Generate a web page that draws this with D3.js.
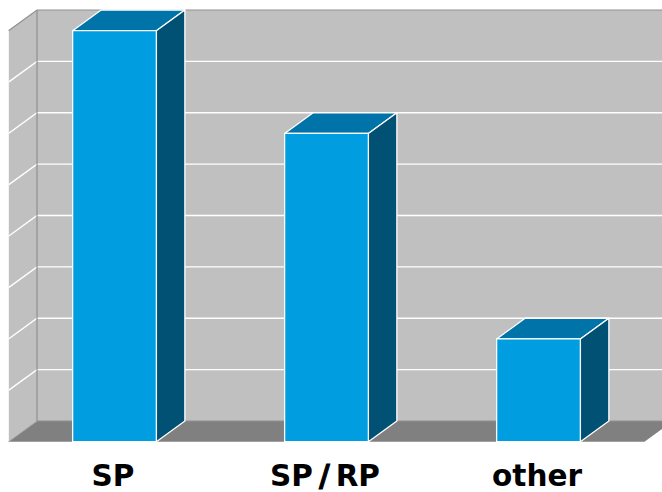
<!DOCTYPE html>
<html>
<head>
<meta charset="utf-8">
<script src="https://cdn.jsdelivr.net/npm/d3@7/dist/d3.min.js"></script>
<style>
html,body{margin:0;padding:0;background:#fff;overflow:hidden}
svg{display:block}
text{font-family:"DejaVu Sans",sans-serif;font-weight:700;fill:#000}
</style>
</head>
<body>
<svg id="chart" width="662" height="492"></svg>
<script>
const categories = ["SP", "SP/RP", "other"];
const values = [8, 6, 2];
const gridTicks = [0, 1, 2, 3, 4, 5, 6, 7, 8];

const colors = {
  wall: "#c0c0c0", floor: "#808080", wallEdge: "#8f8f8f", grid: "#ffffff",
  front: "#009ee0", top: "#0074a8", side: "#005174", barEdge: "#ffffff"
};

// Plot box on the front plane and the oblique depth offset of the 3D projection
const left = 8.5, right = 644.5, baseY = 441.7, topY = 30.7;
const dx = 28.5, dy = -20.7;

const x = d3.scaleBand().domain(categories).range([left, right]).paddingInner(0.605).paddingOuter(0.3025);
const y = d3.scaleLinear().domain([0, 8]).range([baseY, topY]);

const svg = d3.select("#chart");
const poly = pts => pts.map(p => p.join(",")).join(" ");

// Back wall, side wall and floor
svg.append("polygon")
  .attr("points", poly([[left + dx, topY + dy], [right + dx, topY + dy], [right + dx, baseY + dy], [left + dx, baseY + dy]]))
  .attr("fill", colors.wall);
svg.append("polygon")
  .attr("points", poly([[left, topY], [left + dx, topY + dy], [left + dx, baseY + dy], [left, baseY]]))
  .attr("fill", colors.wall);
svg.append("polygon")
  .attr("points", poly([[left, baseY], [left + dx, baseY + dy], [right + dx, baseY + dy], [right, baseY]]))
  .attr("fill", colors.floor);

// Gridlines run across the side wall and along the back wall
const inner = gridTicks.filter(t => t > 0 && t < 8);
svg.append("g").selectAll("polyline").data(inner).join("polyline")
  .attr("points", t => poly([[left, y(t)], [left + dx, y(t) + dy], [right + dx, y(t) + dy]]))
  .attr("fill", "none").attr("stroke", colors.grid).attr("stroke-width", 1.4);

// Wall outlines
svg.append("polyline")
  .attr("points", poly([[left, topY], [left + dx, topY + dy], [right + dx, topY + dy]]))
  .attr("fill", "none").attr("stroke", colors.wallEdge).attr("stroke-width", 1.2);
svg.append("line")
  .attr("x1", left + dx).attr("x2", left + dx).attr("y1", topY + dy).attr("y2", baseY + dy)
  .attr("stroke", colors.wallEdge).attr("stroke-width", 1.2);
svg.append("line")
  .attr("x1", left + dx).attr("x2", right + dx).attr("y1", baseY + dy).attr("y2", baseY + dy)
  .attr("stroke", colors.wallEdge).attr("stroke-width", 1.2);
svg.append("line")
  .attr("x1", left).attr("x2", left).attr("y1", topY).attr("y2", baseY)
  .attr("stroke", "#f4f4f4").attr("stroke-width", 1);
svg.append("line")
  .attr("x1", left).attr("x2", left + dx).attr("y1", baseY).attr("y2", baseY + dy)
  .attr("stroke", "#a8a8a8").attr("stroke-width", 1);

// Bars: front face, top face and right side face
const bars = svg.append("g").selectAll("g").data(categories.map((c, i) => ({c, v: values[i]}))).join("g")
  .attr("stroke", colors.barEdge).attr("stroke-width", 1.3).attr("stroke-linejoin", "round");

bars.append("polygon").attr("fill", colors.top).attr("points", d => {
  const a = x(d.c), b = a + x.bandwidth(), t = y(d.v);
  return poly([[a, t], [a + dx, t + dy], [b + dx, t + dy], [b, t]]);
});
bars.append("polygon").attr("fill", colors.side).attr("points", d => {
  const b = x(d.c) + x.bandwidth(), t = y(d.v);
  return poly([[b, t], [b + dx, t + dy], [b + dx, baseY + dy], [b, baseY]]);
});
bars.append("rect").attr("fill", colors.front)
  .attr("x", d => x(d.c)).attr("y", d => y(d.v))
  .attr("width", x.bandwidth()).attr("height", d => baseY - y(d.v));

// Category labels; the slash is set heavier and with extra side bearing
const labels = svg.append("g").selectAll("text").data(categories).join("text")
  .attr("x", c => x(c) + x.bandwidth() / 2 - 1.5)
  .attr("y", 486)
  .attr("text-anchor", "middle")
  .attr("font-size", 29.5);
labels.each(function (c) {
  const t = d3.select(this);
  c.split(/(\/)/).forEach((part, i) => {
    const span = t.append("tspan").attr("dx", i > 0 ? 6 : null).text(part);
    if (part === "/") span.attr("stroke", "#000").attr("stroke-width", 1);
  });
});
</script>
</body>
</html>
